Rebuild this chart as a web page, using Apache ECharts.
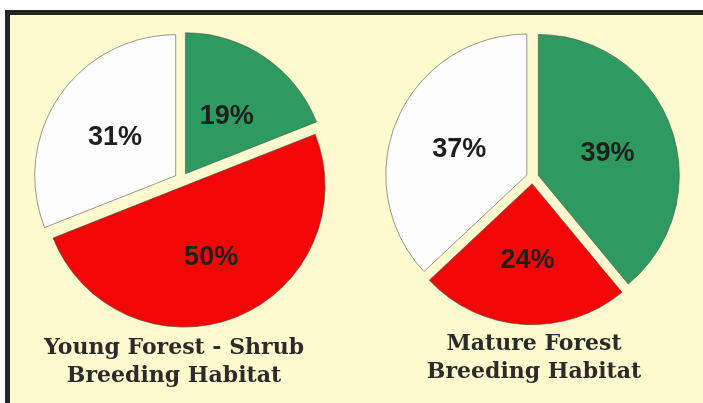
<!DOCTYPE html>
<html>
<head>
<meta charset="utf-8">
<script src="https://cdn.jsdelivr.net/npm/echarts@6/dist/echarts.min.js"></script>
<style>
html,body{margin:0;padding:0;background:#ffffff;}
#chart{width:703px;height:403px;}
</style>
</head>
<body>
<div id="chart"></div>
<script>
// Data
const categories = ['Mature forest birds', 'Young forest - shrub birds', 'Other'];
const youngForestValues = [19, 50, 31];
const matureForestValues = [39, 24, 37];
const sliceColors = ['#2e9a5f', '#f40606', '#fdfdfd'];
const pieTitles = ['Young Forest - Shrub\nBreeding Habitat', 'Mature Forest\nBreeding Habitat'];

function makeData(values) {
  return values.map((v, i) => ({
    name: categories[i],
    value: v,
    selected: true,
    itemStyle: { color: sliceColors[i] }
  }));
}

function pieSeries(values, center, offset) {
  return {
    type: 'pie',
    center: center,
    radius: 141,
    startAngle: 90,
    clockwise: true,
    selectedMode: 'multiple',
    selectedOffset: offset,
    animation: false,
    silent: true,
    data: makeData(values),
    itemStyle: { borderColor: 'rgba(70,70,70,0.55)', borderWidth: 1 },
    label: {
      show: true,
      position: 'inside',
      formatter: '\n{c}%',
      fontFamily: 'Liberation Sans, Arial, sans-serif',
      fontWeight: 'bold',
      fontSize: 27,
      lineHeight: 7,
      color: '#1e1e1e'
    },
    labelLine: { show: false },
    emphasis: { disabled: true },
    select: { disabled: false, itemStyle: { borderColor: 'rgba(70,70,70,0.55)', borderWidth: 1 } }
  };
}

const chart = echarts.init(document.getElementById('chart'), null, { renderer: 'canvas' });
chart.setOption({
  backgroundColor: '#fffbcf',
  animation: false,
  graphic: [
    { type: 'rect', shape: { x: 0, y: 0, width: 703, height: 10 }, style: { fill: '#ffffff' }, silent: true },
    { type: 'rect', shape: { x: 0, y: 0, width: 5, height: 403 }, style: { fill: '#ffffff' }, silent: true },
    { type: 'rect', shape: { x: 5, y: 10, width: 698, height: 5 }, style: { fill: '#252525' }, silent: true },
    { type: 'rect', shape: { x: 5, y: 10, width: 5, height: 393 }, style: { fill: '#252525' }, silent: true },
    { type: 'text', x: 174, y: 334.5, silent: true,
      style: { text: pieTitles[0], font: 'bold 22px "DejaVu Serif"', textAlign: 'center', textVerticalAlign: 'top', lineHeight: 28, fill: '#2b2b2b' } },
    { type: 'text', x: 534, y: 330, silent: true,
      style: { text: pieTitles[1], font: 'bold 22px "DejaVu Serif"', textAlign: 'center', textVerticalAlign: 'top', lineHeight: 28, fill: '#2b2b2b' } }
  ],
  series: [
    pieSeries(youngForestValues, [181.5, 179.6], 7),
    pieSeries(matureForestValues, [532.5, 177.5], 6.2)
  ]
});
</script>
</body>
</html>
